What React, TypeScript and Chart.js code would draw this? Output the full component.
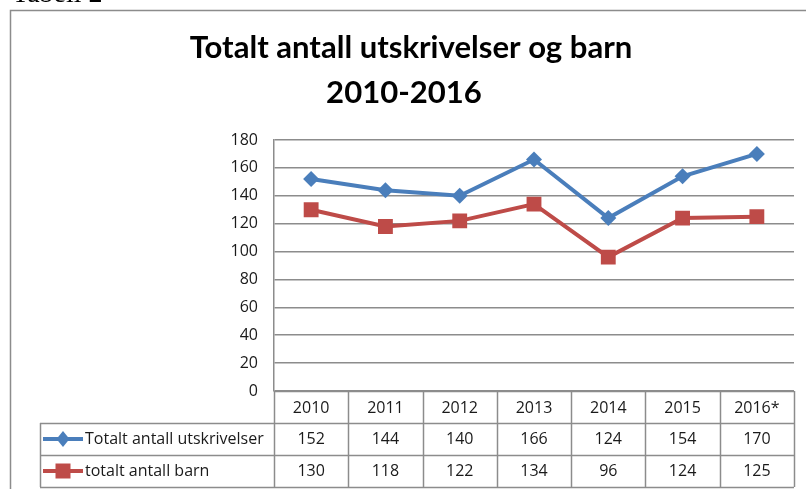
import React, { useEffect, useRef } from 'react';
import { Chart, registerables } from 'chart.js';

Chart.register(...registerables);

// ---- data ----
const categories = ['2010', '2011', '2012', '2013', '2014', '2015', '2016*'];
const utskrivelser = [152, 144, 140, 166, 124, 154, 170];
const barn = [130, 118, 122, 134, 96, 124, 125];
const seriesLabels = ['Totalt antall utskrivelser', 'totalt antall barn'];
const titleLines = ['Totalt antall utskrivelser og barn', '2010-2016'];
const docHeading = 'Tabell 2';
const yMin = 0;
const yMax = 180;
const yStep = 20;

// ---- styles ----
const BLUE = '#4A7EBB';
const RED = '#BE4B48';
const GRID = '#8c8c8c';
const TEXT = '#1a1a1a';
const TITLE_FONT = 'Lato, "Open Sans", sans-serif';
const FONT = '"Open Sans", "Noto Sans", sans-serif';

function drawMarker(ctx: CanvasRenderingContext2D, style: string, x: number, y: number, color: string) {
  ctx.fillStyle = color;
  ctx.beginPath();
  if (style === 'rectRot') {
    ctx.moveTo(x, y - 8);
    ctx.lineTo(x + 6.5, y);
    ctx.lineTo(x, y + 8);
    ctx.lineTo(x - 6.5, y);
    ctx.closePath();
  } else {
    ctx.rect(x - 7.5, y - 7.5, 15, 15);
  }
  ctx.fill();
}

const decorPlugin = {
  id: 'decor',
  beforeDraw(chart: any) {
    const ctx: CanvasRenderingContext2D = chart.ctx;
    const W = chart.width;
    const H = chart.height;
    ctx.save();
    ctx.fillStyle = '#ffffff';
    ctx.fillRect(0, 0, W, H);

    // cut-off heading above the frame
    ctx.fillStyle = '#000';
    ctx.font = '28px "Liberation Serif", serif';
    ctx.textAlign = 'left';
    ctx.textBaseline = 'alphabetic';
    ctx.fillText(docHeading, 12, 2);

    // frame
    ctx.strokeStyle = GRID;
    ctx.lineWidth = 1.5;
    ctx.beginPath();
    ctx.moveTo(10.5, H + 5);
    ctx.lineTo(10.5, 10.5);
    ctx.lineTo(W + 5, 10.5);
    ctx.stroke();

    // title
    ctx.fillStyle = '#000';
    ctx.textAlign = 'center';
    ctx.font = `bold 32px ${TITLE_FONT}`;
    const w0 = ctx.measureText(titleLines[0]).width;
    const size = 32 * 443 / w0;
    ctx.font = `bold ${size}px ${TITLE_FONT}`;
    ctx.fillText(titleLines[0], 411, 58);
    ctx.fillText(titleLines[1], 404, 103);
    ctx.restore();
  },
  afterDraw(chart: any) {
    const ctx: CanvasRenderingContext2D = chart.ctx;
    const area = chart.chartArea;
    const xs = chart.scales.x;
    const half = (xs.getPixelForValue(1) - xs.getPixelForValue(0)) / 2;
    const top = area.bottom;
    const rowH = 32;
    const leftX = 40;
    const r1 = top + rowH;
    const r2 = top + 2 * rowH;
    const bottom = top + 3 * rowH;
    const right = area.right;

    ctx.save();
    ctx.strokeStyle = GRID;
    ctx.lineWidth = 1.5;
    const hl = (x1: number, x2: number, y: number) => {
      ctx.beginPath();
      ctx.moveTo(x1, Math.round(y) + 0.5);
      ctx.lineTo(x2, Math.round(y) + 0.5);
      ctx.stroke();
    };
    const vl = (x: number, y1: number, y2: number) => {
      ctx.beginPath();
      ctx.moveTo(Math.round(x) + 0.5, y1);
      ctx.lineTo(Math.round(x) + 0.5, y2);
      ctx.stroke();
    };
    hl(area.left, right, top);
    hl(leftX, right, r1);
    hl(leftX, right, r2);
    hl(leftX, right, bottom);
    vl(leftX, r1, bottom);
    for (let i = 0; i < categories.length; i++) {
      vl(xs.getPixelForValue(i) - half, top, bottom);
    }
    vl(right, top, bottom);

    // header labels
    ctx.fillStyle = TEXT;
    ctx.font = `16px ${FONT}`;
    ctx.textAlign = 'center';
    ctx.textBaseline = 'alphabetic';
    categories.forEach((c, i) => {
      ctx.fillText(c, xs.getPixelForValue(i), top + 22);
    });
    const rows = [
      { label: seriesLabels[0], data: utskrivelser, color: BLUE, style: 'rectRot' },
      { label: seriesLabels[1], data: barn, color: RED, style: 'rect' },
    ];
    rows.forEach((row, ri) => {
      const yTop = r1 + ri * rowH;
      const yc = yTop + rowH / 2;
      ctx.textAlign = 'center';
      ctx.fillStyle = TEXT;
      row.data.forEach((v, i) => {
        ctx.fillText(String(v), xs.getPixelForValue(i), yTop + 21);
      });
      // legend key
      ctx.strokeStyle = row.color;
      ctx.lineWidth = 4;
      ctx.beginPath();
      ctx.moveTo(43, yc);
      ctx.lineTo(83, yc);
      ctx.stroke();
      drawMarker(ctx, row.style, 63, yc, row.color);
      ctx.fillStyle = TEXT;
      ctx.textAlign = 'left';
      ctx.fillText(row.label, 85, yTop + 21);
      ctx.strokeStyle = GRID;
      ctx.lineWidth = 1.5;
    });
    ctx.restore();
  },
};

export default function App() {
  const ref = useRef<HTMLCanvasElement | null>(null);
  useEffect(() => {
    if (!ref.current) return;
    const chart = new Chart(ref.current, {
      type: 'line',
      data: {
        labels: categories,
        datasets: [
          {
            label: seriesLabels[0],
            data: utskrivelser,
            borderColor: BLUE,
            backgroundColor: BLUE,
            borderWidth: 4,
            pointStyle: 'rectRot',
            pointRadius: 8,
            pointBorderWidth: 0,
            pointBackgroundColor: BLUE,
            tension: 0,
          },
          {
            label: seriesLabels[1],
            data: barn,
            borderColor: RED,
            backgroundColor: RED,
            borderWidth: 4,
            pointStyle: 'rect',
            pointRadius: 10.5,
            pointBorderWidth: 0,
            pointBackgroundColor: RED,
            tension: 0,
          },
        ],
      },
      options: {
        animation: false,
        responsive: false,
        devicePixelRatio: 1,
        layout: { padding: { top: 140, right: 12, bottom: 98, left: 0 } },
        plugins: {
          legend: { display: false },
          title: { display: false },
          tooltip: { enabled: false },
        },
        scales: {
          x: { type: 'category', offset: true, display: false },
          y: {
            min: yMin,
            max: yMax,
            ticks: {
              stepSize: yStep,
              padding: 16,
              color: TEXT,
              font: { family: FONT, size: 16 },
            },
            grid: { color: GRID, lineWidth: 1.5, drawTicks: false },
            border: { display: true, color: GRID, width: 1.5 },
            afterFit: (s: any) => {
              s.width = 274;
            },
          },
        },
      },
      plugins: [decorPlugin],
    });
    return () => chart.destroy();
  }, []);
  return (
    <div style={{ position: 'absolute', left: 0, top: 0, width: 806, height: 489, background: '#fff' }}>
      <canvas ref={ref} width={806} height={489} style={{ display: 'block' }} />
    </div>
  );
}
